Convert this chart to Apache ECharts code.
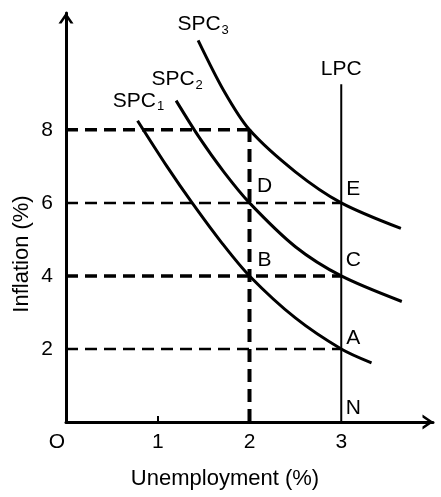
<!DOCTYPE html>
<html>
<head>
<meta charset="utf-8">
<script src="https://cdn.jsdelivr.net/npm/echarts@6/dist/echarts.min.js"></script>
<style>html,body{margin:0;padding:0;background:#fff}#c{width:441px;height:497px}</style>
</head>
<body>
<div id="c"></div>
<script>
// ---- data ----
const xTickLabels = [0, 1, 2, 3];
const yTickLabels = [2, 4, 6, 8];
const spc1X = [0.78, 1.1, 1.375, 1.7, 2.0, 2.5, 3.0, 3.33];
const spc1Y = [8.25, 7.0, 6.0, 4.9, 4.0, 2.85, 2.0, 1.62];
const spc2X = [1.2, 1.45, 1.72, 2.0, 2.5, 3.0, 3.66];
const spc2Y = [8.8, 7.8, 6.85, 6.0, 4.8, 4.0, 3.3];
const spc3X = [1.44, 1.72, 2.0, 2.5, 3.0, 3.65];
const spc3Y = [10.45, 9.07, 8.0, 6.85, 6.0, 5.3];
const lpcX = [3, 3];
const lpcY = [0, 9.25];
const guideY = [8, 6, 4, 2];       // horizontal dashed guides (inflation level)
const guideXEnd = [2, 3, 3, 3];    // where each guide ends
const vGuideX = 2, vGuideTop = 8;  // vertical dashed guide
const pointNames = ['D', 'E', 'B', 'C', 'A', 'N'];
const pointX = [2, 3, 2, 3, 3, 3];
const pointY = [6, 6, 4, 4, 2, 0];
const curveNames = ['SPC{s|1}', 'SPC{s|2}', 'SPC{s|3}'];

const FONT = "'Liberation Sans', Arial, sans-serif";
const zip = (xs, ys) => xs.map((x, i) => [x, ys[i]]);
const arrow = 'path://M0,11 L7.5,0 L15,11 L12,11 L7.5,4.4 L3,11 Z';

function curve(xs, ys) {
  return {
    type: 'line', data: zip(xs, ys), smooth: 0.3, symbol: 'none', silent: true,
    lineStyle: { color: '#000', width: 3 }, z: 5
  };
}

const series = [];
guideY.forEach((y, i) => {
  series.push({
    type: 'line', data: [[0, y], [guideXEnd[i], y]], symbol: 'none', silent: true,
    lineStyle: { color: '#000', width: (y === 8 || y === 4) ? 3.5 : 2.5, type: [12, 7] }, z: 2
  });
});
series.push({
  type: 'line', data: [[vGuideX, 0], [vGuideX, vGuideTop]], symbol: 'none', silent: true,
  lineStyle: { color: '#000', width: 4, type: [13, 7] }, z: 2
});
series.push(curve(spc1X, spc1Y));
series.push(curve(spc2X, spc2Y));
series.push(curve(spc3X, spc3Y));
series.push({
  type: 'line', data: zip(lpcX, lpcY), symbol: 'none', silent: true,
  lineStyle: { color: '#000', width: 2 }, z: 4
});

// text labels attached to data positions
const labelItems = [];
const spcStarts = [[spc1X[0], spc1Y[0]], [spc2X[0], spc2Y[0]], [spc3X[0], spc3Y[0]]];
const spcOffsets = [[1, -20], [1, -21], [5, -16]];
spcStarts.forEach((p, i) => labelItems.push({ name: curveNames[i], value: p, label: { offset: spcOffsets[i] } }));
labelItems.push({ name: 'LPC', value: [lpcX[1], lpcY[1]], label: { offset: [0, -15] } });
const offs = { D: [15, -17], E: [12, -14], B: [15, -16], C: [12, -16], A: [12, -11], N: [12, -14] };
pointNames.forEach((n, i) => labelItems.push({ name: n, value: [pointX[i], pointY[i]], label: { offset: offs[n] } }));
series.push({
  type: 'scatter', symbolSize: 0, silent: true, z: 6,
  itemStyle: { opacity: 1 },
  data: labelItems,
  label: {
    show: true, position: 'inside', formatter: p => p.name, color: '#000', fontFamily: FONT, fontSize: 21,
    rich: { s: { fontSize: 13, fontFamily: FONT, color: '#000', padding: [12, 0, 0, 1] } }
  }
});

const axisArrow = { symbol: ['none', arrow], symbolSize: [15, 12], symbolOffset: [0, -5] };
const chart = echarts.init(document.getElementById('c'), null, { renderer: 'canvas' });
chart.setOption({
  animation: false,
  backgroundColor: '#fff',
  grid: { left: 66, right: 8, top: 13, bottom: 75, containLabel: false },
  xAxis: {
    type: 'value', min: 0, max: 4,
    axisLine: Object.assign({ show: true, onZero: false, lineStyle: { color: '#000', width: 3 } }, axisArrow),
    axisTick: { show: true, inside: true, length: 6, customValues: [1], lineStyle: { color: '#000', width: 2 } },
    axisLabel: {
      customValues: xTickLabels, margin: 10, color: '#000', fontFamily: FONT, fontSize: 21,
      formatter: v => v === 0 ? '{o|O}' : String(v),
      rich: { o: { fontFamily: FONT, fontSize: 21, color: '#000', padding: [0, 18, 0, 0] } }
    },
    splitLine: { show: false }
  },
  yAxis: {
    type: 'value', min: 0, max: 11.2,
    axisLine: Object.assign({ show: true, onZero: false, lineStyle: { color: '#000', width: 3 } }, axisArrow),
    axisTick: { show: false },
    axisLabel: { customValues: yTickLabels, margin: 13, color: '#000', fontFamily: FONT, fontSize: 21 },
    splitLine: { show: false }
  },
  graphic: [
    { type: 'text', x: 22, y: 254, rotation: Math.PI / 2, style: { text: 'Inflation (%)', fill: '#000', font: "22px " + FONT, align: 'center', verticalAlign: 'middle' } },
    { type: 'text', x: 225, y: 479, style: { text: 'Unemployment (%)', fill: '#000', font: "22px " + FONT, align: 'center', verticalAlign: 'middle' } }
  ],
  series: series
});
</script>
</body>
</html>
